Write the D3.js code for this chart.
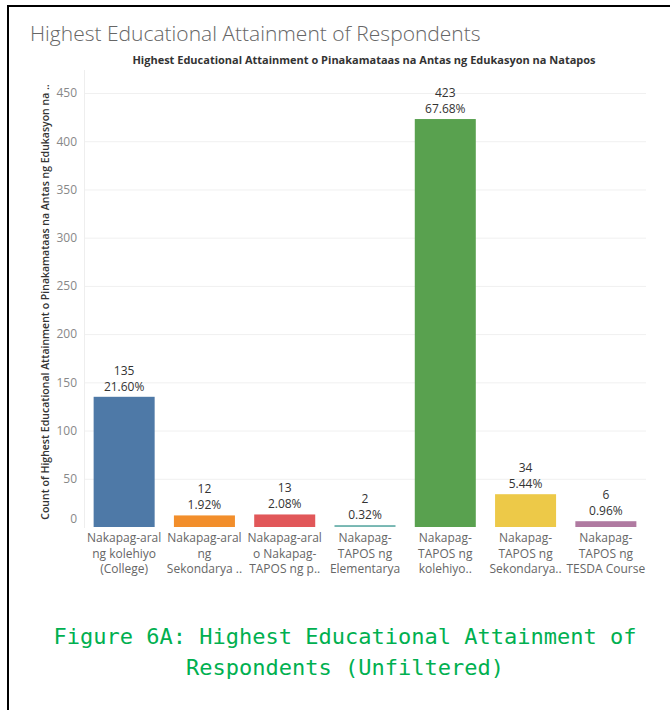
<!DOCTYPE html>
<meta charset="utf-8">
<style>
body { margin: 0; background: #fff; }
svg text { font-family: "Open Sans", "Noto Sans", sans-serif; }
</style>
<body>
<div id="chart"></div>
<script src="https://cdn.jsdelivr.net/npm/d3@7/dist/d3.min.js"></script>
<script>
// categories (x labels, split into display lines)
var categories = [
  "Nakapag-aral ng kolehiyo (College)",
  "Nakapag-aral ng Sekondarya",
  "Nakapag-aral o Nakapag-TAPOS ng p",
  "Nakapag-TAPOS ng Elementarya",
  "Nakapag-TAPOS ng kolehiyo",
  "Nakapag-TAPOS ng Sekondarya",
  "Nakapag-TAPOS ng TESDA Course"
];
var labelLines = [
  ["Nakapag-aral", "ng kolehiyo", "(College)"],
  ["Nakapag-aral", "ng", "Sekondarya .."],
  ["Nakapag-aral", "o Nakapag-", "TAPOS ng p.."],
  ["Nakapag-", "TAPOS ng", "Elementarya"],
  ["Nakapag-", "TAPOS ng", "kolehiyo.."],
  ["Nakapag-", "TAPOS ng", "Sekondarya.."],
  ["Nakapag-", "TAPOS ng", "TESDA Course"]
];
var counts = [135, 12, 13, 2, 423, 34, 6];
var percents = ["21.60%", "1.92%", "2.08%", "0.32%", "67.68%", "5.44%", "0.96%"];
var colors = ["#4e79a7", "#f28e2b", "#e15759", "#76b7b2", "#59a14f", "#edc948", "#b07aa1"];
var yTicks = [0, 50, 100, 150, 200, 250, 300, 350, 400, 450];

var W = 670, H = 710;
var svg = d3.select("#chart").append("svg")
    .attr("width", W)
    .attr("height", H);

// page border (top and left only)
svg.append("line").attr("x1", 7).attr("x2", W).attr("y1", 6).attr("y2", 6)
    .attr("stroke", "#000").attr("stroke-width", 2);
svg.append("line").attr("x1", 8).attr("x2", 8).attr("y1", 5).attr("y2", H)
    .attr("stroke", "#000").attr("stroke-width", 2);

svg.append("text")
    .attr("x", 30).attr("y", 41)
    .style("font-size", "21px")
    .style("font-weight", 300)
    .style("fill", "#666")
    .text("Highest Educational Attainment of Respondents");

svg.append("text")
    .attr("x", 364).attr("y", 64)
    .attr("text-anchor", "middle")
    .style("font-size", "11px")
    .style("font-weight", "bold")
    .style("fill", "#333")
    .text("Highest Educational Attainment o Pinakamataas na Antas ng Edukasyon na Natapos");

var x = d3.scaleBand().domain(categories).range([84, 646]).paddingInner(0.24).paddingOuter(0.12);
var y = d3.scaleLinear().domain([0, 450]).range([527, 93]);

// gridlines
svg.append("g").selectAll("line")
    .data(yTicks.slice(1))
    .join("line")
    .attr("x1", 84).attr("x2", 646)
    .attr("y1", function(d) { return y(d) + 0.5; })
    .attr("y2", function(d) { return y(d) + 0.5; })
    .attr("stroke", "#f0f0f0");

svg.append("line")
    .attr("x1", 84.5).attr("x2", 84.5).attr("y1", 70).attr("y2", 528)
    .attr("stroke", "#eee");

// y axis
var yaxis = svg.append("g")
    .attr("transform", "translate(84,0)")
    .call(d3.axisLeft(y).tickValues(yTicks).tickSize(0).tickPadding(7));
yaxis.select(".domain").remove();
yaxis.selectAll("text")
    .style("font-size", "12px")
    .style("fill", "#888")
    .style("font-family", "'Open Sans', sans-serif")
    .attr("dy", function(d) { return d === 0 ? "-0.35em" : "0.32em"; });

svg.append("text")
    .attr("transform", "translate(49,302) rotate(-90)")
    .attr("text-anchor", "middle")
    .style("font-size", "10.5px")
    .style("font-weight", 600)
    .style("fill", "#333")
    .text("Count of Highest Educational Attainment o Pinakamataas na Antas ng Edukasyon na ..");

// bars
svg.append("g").selectAll("rect")
    .data(categories)
    .join("rect")
    .attr("x", function(d) { return x(d); })
    .attr("width", x.bandwidth())
    .attr("y", function(d, i) { return y(counts[i]); })
    .attr("height", function(d, i) { return y(0) - y(counts[i]); })
    .attr("fill", function(d, i) { return colors[i]; });

// value labels: count line and percent line
var lx = function(d) { return x(d) + x.bandwidth() / 2; };
svg.append("g").selectAll("text")
    .data(categories)
    .join("text")
    .attr("text-anchor", "middle")
    .attr("x", lx)
    .attr("y", function(d, i) { return y(counts[i]) - 22; })
    .style("font-size", "12px")
    .style("fill", "#333")
    .text(function(d, i) { return counts[i]; });
svg.append("g").selectAll("text")
    .data(categories)
    .join("text")
    .attr("text-anchor", "middle")
    .attr("x", lx)
    .attr("y", function(d, i) { return y(counts[i]) - 6; })
    .style("font-size", "12px")
    .style("fill", "#333")
    .text(function(d, i) { return percents[i]; });

// x labels
var xl = svg.append("g").selectAll("text")
    .data(categories)
    .join("text")
    .attr("text-anchor", "middle")
    .style("font-size", "12px")
    .style("fill", "#666");
xl.each(function(d, i) {
    var t = d3.select(this);
    labelLines[i].forEach(function(s, k) {
        t.append("tspan")
            .attr("x", lx(d))
            .attr("y", 542 + k * 15.5)
            .text(s);
    });
});

// caption
var cap = svg.append("text")
    .attr("text-anchor", "middle")
    .style("font-family", "'DejaVu Sans Mono', 'Liberation Mono', monospace")
    .style("font-size", "22px")
    .style("fill", "#00b050");
cap.append("tspan").attr("x", 345).attr("y", 644).text("Figure 6A: Highest Educational Attainment of");
cap.append("tspan").attr("x", 345).attr("y", 675).text("Respondents (Unfiltered)");
</script>
</body>
